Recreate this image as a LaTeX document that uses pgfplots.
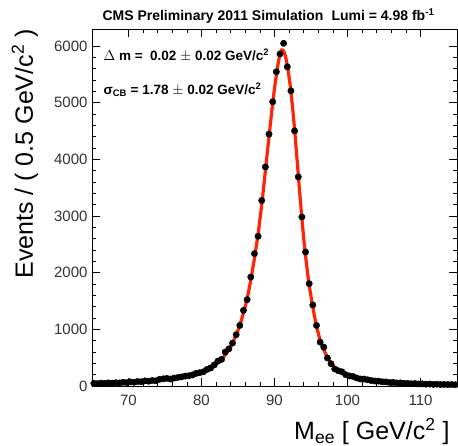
\documentclass[border=0pt]{standalone}
\usepackage{fontspec}
\setmainfont{Liberation Sans}
\usepackage{pgfplots}
\pgfplotsset{compat=1.18}
\usepackage{pgfplotstable}
\definecolor{fitred}{RGB}{255,36,8}
\definecolor{ticktext}{RGB}{50,50,50}

\pgfplotstableread{
x y
65.25 48
65.75 42
66.25 50
66.75 46
67.25 55
67.75 50
68.25 58
68.75 54
69.25 66
69.75 60
70.25 72
70.75 66
71.25 80
71.75 74
72.25 90
72.75 84
73.25 97
73.75 92
74.25 118
74.75 126
75.25 135
75.75 122
76.25 140
76.75 150
77.25 160
77.75 175
78.25 180
78.75 195
79.25 222
79.75 235
80.25 250
80.75 292
81.25 318
81.75 372
82.25 440
82.75 470
83.25 600
83.75 655
84.25 757
84.75 905
85.25 1069
85.75 1334
86.25 1523
86.75 1923
87.25 2336
87.75 2642
88.25 3274
88.75 3866
89.25 4444
89.75 5015
90.25 5545
90.75 5860
91.25 6047
91.75 5633
92.25 5209
92.75 4502
93.25 3690
93.75 2983
94.25 2364
94.75 1806
95.25 1430
95.75 1069
96.25 774
96.75 686
97.25 495
97.75 392
98.25 300
98.75 268
99.25 250
99.75 200
100.25 178
100.75 168
101.25 142
101.75 124
102.25 122
102.75 110
103.25 96
103.75 88
104.25 86
104.75 74
105.25 72
105.75 62
106.25 64
106.75 54
107.25 55
107.75 48
108.25 46
108.75 40
109.25 44
109.75 36
110.25 38
110.75 32
111.25 35
111.75 28
112.25 32
112.75 26
113.25 28
113.75 24
114.25 27
114.75 22
}\datatable

\pgfplotstableread{
x y
65.0 43
65.75 46
66.75 50
67.75 54
68.75 59
69.75 65
70.75 71
71.75 79
72.75 88
73.75 99
74.75 112
75.75 128
76.75 147
77.75 170
78.75 200
79.75 238
80.25 262
80.75 290
81.25 325
81.75 365
82.25 415
82.75 475
83.25 550
83.75 645
84.25 760
84.75 900
85.25 1075
85.75 1290
86.25 1540
86.75 1870
87.25 2250
87.75 2680
88.0 2935
88.25 3200
88.5 3490
88.75 3800
89.0 4100
89.25 4400
89.5 4700
89.75 4990
90.0 5250
90.25 5480
90.5 5690
90.75 5850
91.0 5930
91.25 5910
91.5 5820
91.75 5660
92.0 5450
92.25 5200
92.5 4880
92.75 4530
93.0 4140
93.25 3740
93.5 3340
93.75 2960
94.0 2610
94.25 2300
94.5 2030
94.75 1780
95.25 1390
95.75 1060
96.25 810
96.75 640
97.25 505
97.75 405
98.25 330
98.75 275
99.25 235
99.75 205
100.25 180
100.75 160
101.25 144
101.75 130
102.25 118
102.75 107
103.25 98
103.75 90
104.75 77
105.75 66
106.75 57
107.75 50
108.75 44
109.75 39
110.75 35
111.75 31
112.75 28
113.75 26
115.0 23
}\fittable

\begin{document}
\begin{tikzpicture}
\begin{axis}[
  at={(0,0)}, anchor=south west,
  scale only axis, width=365pt, height=357pt,
  xmin=65, xmax=115, ymin=0, ymax=6300,
  xtick={70,80,90,100,110}, ytick={0,1000,2000,3000,4000,5000,6000},
  minor x tick num=4, minor y tick num=4,
  tick align=inside, xtick pos=both, ytick pos=both,
  major tick length=8pt, minor tick length=4pt,
  axis line style={line width=0.8pt, black},
  every tick/.style={line width=0.7pt, black},
  scaled ticks=false,
  /pgf/number format/assume math mode=true,
  /pgf/number format/1000 sep={},
  ticklabel style={font=\fontsize{15}{15}\selectfont, text=ticktext},
  xticklabel style={yshift=-5pt},
  yticklabel style={xshift=-1pt},
  clip=true,
]
\addplot[only marks, mark=*, mark size=3.2pt, black,
  error bars/.cd, x dir=both, x fixed=0.25,
  error bar style={line width=1pt, black}, error mark=none]
  table[x=x, y=y] {\datatable};
\addplot[fitred, line width=3.2pt, smooth, tension=0.4] table[x=x, y=y] {\fittable};
\end{axis}
% titles and labels
\node[anchor=base west, font=\fontsize{14}{14}\selectfont\bfseries] at (7pt,365pt) {CMS Preliminary 2011 Simulation};
\node[anchor=base east, font=\fontsize{14}{14}\selectfont\bfseries] at (346pt,365pt) {Lumi = 4.98 fb\textsuperscript{-1}};
\node[anchor=west, font=\fontsize{13.5}{13.5}\selectfont\bfseries] at (8pt,331pt) {$\Delta$ m =\ \ 0.02 $\pm$ 0.02 GeV/c\textsuperscript{2}};
\node[anchor=west, font=\fontsize{13.5}{13.5}\selectfont\bfseries] at (8pt,296pt) {σ\textsubscript{CB} = 1.78 $\pm$ 0.02 GeV/c\textsuperscript{2}};
\node[anchor=base east, font=\fontsize{25}{25}\selectfont] at (361pt,-54pt) {M\textsubscript{ee} [ GeV/c\textsuperscript{2} ]};
\node[rotate=90, anchor=base, font=\fontsize{25}{25}\selectfont] at (-59pt,232pt) {Events / ( 0.5 GeV/c\textsuperscript{2} )};
\pgfresetboundingbox
\path[use as bounding box] (-92pt,-60pt) rectangle (366pt,386pt);
\end{tikzpicture}
\end{document}
